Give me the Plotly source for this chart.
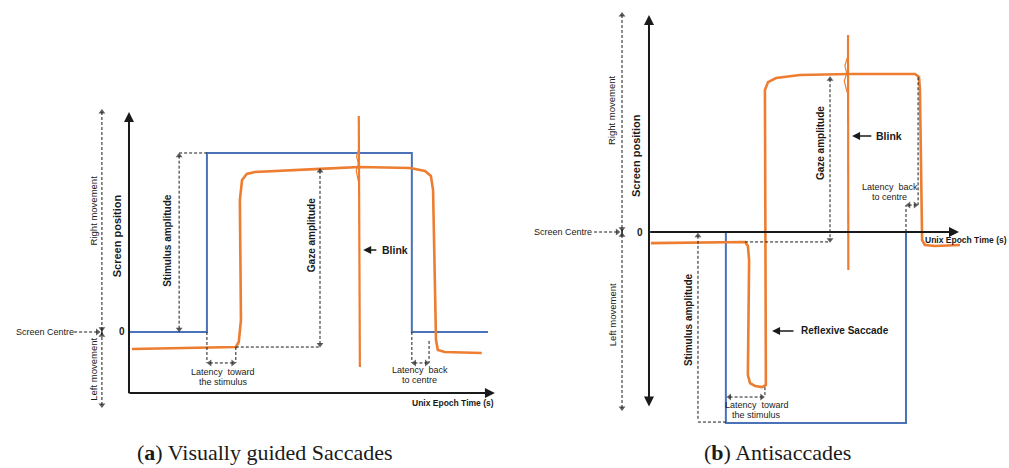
import plotly.graph_objects as go

# ---------------- DATA ----------------
# Panel (a) Visually guided saccades: time (arb. units) vs screen position (stimulus amplitude = 1)
A_STIM_T = [0, 2.13, 2.13, 7.73, 7.73, 9.81]
A_STIM_Y = [0, 0, 1, 1, 0, 0]
A_GAZE_T = [0.08, 2.92, 3.00, 3.06, 3.03, 3.09, 3.22, 3.44, 5.22, 6.31, 7.68, 8.09, 8.25, 8.31, 8.39, 8.44, 8.63, 9.64]
A_GAZE_Y = [-0.095, -0.084, -0.056, 0.067, 0.737, 0.849, 0.883, 0.894, 0.911, 0.922, 0.916, 0.899, 0.872, 0.793, -0.045, -0.101, -0.112, -0.117]
A_BLINK_T = [6.28, 6.29, 6.31]
A_BLINK_Y = [1.207, 0.90, -0.196]
A_JIT_T = [6.29, 6.22, 6.27, 6.21, 6.26, 6.30]
A_JIT_Y = [1.03, 0.98, 0.94, 0.90, 0.85, 0.82]

# Panel (b) Antisaccades
B_STIM_T = [0, 2.48, 2.48, 8.29, 8.29, 9.60]
B_STIM_Y = [0, 0, -1, -1, 0, 0]
B_GAZE_T = [0.06, 3.10, 3.19, 3.23, 3.19, 3.26, 3.42, 3.65, 3.77, 3.77, 3.74, 3.84, 4.10, 4.87, 6.48, 8.58, 8.71, 8.74, 8.81, 8.90, 9.23, 10.03]
B_GAZE_Y = [-0.058, -0.052, -0.073, -0.147, -0.749, -0.791, -0.806, -0.812, -0.801, -0.723, 0.743, 0.785, 0.806, 0.822, 0.827, 0.827, 0.812, 0.743, -0.042, -0.068, -0.073, -0.068]
B_BLINK_T = [6.42, 6.42, 6.43]
B_BLINK_Y = [1.031, 0.70, -0.199]
B_JIT_T = [6.42, 6.32, 6.38, 6.30, 6.36, 6.42]
B_JIT_Y = [0.925, 0.87, 0.83, 0.79, 0.75, 0.72]

BLUE = "#4A72B8"
ORANGE = "#ED7D31"
INK = "#1a1a1a"
DASH = "3px,2px"
SANS = "Liberation Sans"

fig = go.Figure()


def line(xs, ys, p, color, width, dash=None, heads=None):
    xa, ya = ("x", "y") if p == 1 else ("x2", "y2")
    mk = None
    mode = "lines"
    if heads:
        mode = "lines+markers"
        mk = dict(symbol=[h or "circle" for h in heads],
                  size=[6 if h else 0 for h in heads], color=INK, line=dict(width=0))
    fig.add_trace(go.Scatter(x=xs, y=ys, mode=mode, xaxis=xa, yaxis=ya,
                             line=dict(color=color, width=width, dash=dash),
                             marker=mk, hoverinfo="skip", showlegend=False))


def arrow(x, y, ax, ay, p, width=1.6, both=False):
    xa, ya = ("x", "y") if p == 1 else ("x2", "y2")
    fig.add_annotation(x=x, y=y, ax=ax, ay=ay, xref=xa, yref=ya, axref=xa, ayref=ya,
                       text="", showarrow=True, arrowhead=2, arrowsize=1.0,
                       arrowwidth=width, arrowcolor=INK,
                       arrowside="end+start" if both else "end", startarrowhead=2, startarrowsize=1.0)


def text(x, y, s, p, size=10, bold=False, angle=0, xanchor="center"):
    xa, ya = ("x", "y") if p == 1 else ("x2", "y2")
    fig.add_annotation(x=x, y=y, xref=xa, yref=ya, text=f"<b>{s}</b>" if bold else s,
                       showarrow=False, textangle=angle, xanchor=xanchor, yanchor="middle",
                       font=dict(family=SANS, size=size, color=INK))


# ---------------- PANEL A ----------------
A_XAX = -0.341
arrow(0, 1.229, 0, A_XAX - 0.01, 1, width=2)
arrow(10.0, A_XAX, -0.03, A_XAX, 1, width=2)
line(A_STIM_T, A_STIM_Y, 1, BLUE, 2)
line(A_GAZE_T, A_GAZE_Y, 1, ORANGE, 2.6)
line(A_BLINK_T, A_BLINK_Y, 1, ORANGE, 2.2)
line(A_JIT_T, A_JIT_Y, 1, ORANGE, 1.2)

a_on, a_off = A_STIM_T[1], A_STIM_T[3]
a_sacc = A_GAZE_T[1]
a_ret = 8.20
a_lat = -0.173
# stimulus amplitude
line([1.37, a_on], [1, 1], 1, INK, 1, DASH)
line([1.37, 1.37], [0.985, 0.015], 1, INK, 1, DASH, ["triangle-up", "triangle-down"])
text(1.07, 0.51, "Stimulus amplitude", 1, 10, True, -90)
# gaze amplitude
line([a_sacc, 5.22], [A_GAZE_Y[1]] * 2, 1, INK, 1, DASH)
line([5.22, 5.22], [0.90, -0.07], 1, INK, 1, DASH, ["triangle-up", "triangle-down"])
text(4.97, 0.54, "Gaze amplitude", 1, 10, True, -90)
# latency toward
line([a_on, a_on], [0, a_lat], 1, INK, 1, DASH)
line([a_sacc, a_sacc], [A_GAZE_Y[1], a_lat], 1, INK, 1, DASH)
line([a_on + 0.08, a_sacc - 0.08], [a_lat, a_lat], 1, INK, 1, DASH, ["triangle-left", "triangle-right"])
text(2.57, -0.225, "Latency  toward", 1, 9)
text(2.57, -0.282, "the stimulus", 1, 9)
# latency back
line([a_off, a_off], [0, a_lat], 1, INK, 1, DASH)
line([a_ret, a_ret], [-0.05, a_lat], 1, INK, 1, DASH)
line([a_off + 0.07, a_ret - 0.07], [a_lat, a_lat], 1, INK, 1, DASH, ["triangle-left", "triangle-right"])
text(7.95, -0.213, "Latency  back", 1, 9)
text(7.95, -0.27, "to centre", 1, 9)
# blink
arrow(6.40, 0.458, 6.80, 0.458, 1, 1.6)
text(6.86, 0.458, "Blink", 1, 10.5, True, xanchor="left")
# side labels
line([-0.74, -0.74], [1.229, -0.408], 1, INK, 1, DASH, ["triangle-up", "triangle-down"])
line([-1.50, -0.86], [0, 0], 1, INK, 1, DASH, [None, "triangle-right"])
line([-0.74, -0.74], [0.018, -0.018], 1, INK, 1, None, ["triangle-down", "triangle-up"])
text(-2.30, 0, "Screen Centre", 1, 9)
text(-0.98, 0.68, "Right movement", 1, 9.5, False, -90)
text(-0.98, -0.21, "Left movement", 1, 9.5, False, -90)
text(-0.33, 0.54, "Screen position", 1, 11, True, -90)
text(-0.19, 0, "0", 1, 10, True)
text(8.85, -0.397, "Unix Epoch Time (s)", 1, 8.5, True)

# ---------------- PANEL B ----------------
arrow(0, 1.136, 0, -0.921, 2, width=2, both=True)
arrow(10.0, 0, 0, 0, 2, width=2)
line(B_STIM_T, B_STIM_Y, 2, BLUE, 2)
line(B_GAZE_T, B_GAZE_Y, 2, ORANGE, 2.6)
line(B_BLINK_T, B_BLINK_Y, 2, ORANGE, 2.2)
line(B_JIT_T, B_JIT_Y, 2, ORANGE, 1.2)

b_on, b_off = B_STIM_T[1], B_STIM_T[3]
b_corr = 3.74
b_ret = 8.68
# stimulus amplitude
line([1.58, b_on], [-0.995, -0.995], 2, INK, 1, DASH)
line([1.58, 1.58], [-0.02, -0.985], 2, INK, 1, DASH, ["triangle-up", None])
text(1.26, -0.461, "Stimulus amplitude", 2, 10, True, -90)
# gaze amplitude
line([B_GAZE_T[1], 5.84], [B_GAZE_Y[1]] * 2, 2, INK, 1, DASH)
line([5.84, 5.84], [0.80, -0.04], 2, INK, 1, DASH, ["triangle-up", "triangle-down"])
text(5.52, 0.466, "Gaze amplitude", 2, 10, True, -90)
# latency toward
line([b_corr, b_corr], [-0.812, -0.864], 2, INK, 1, DASH)
line([b_on + 0.12, b_corr - 0.1], [-0.864, -0.864], 2, INK, 1, DASH, ["triangle-left", "triangle-right"])
text(3.48, -0.906, "Latency  toward", 2, 9)
text(3.48, -0.958, "the stimulus", 2, 9)
# latency back
line([b_off, b_off], [0, 0.141], 2, INK, 1, DASH)
line([b_ret, b_ret], [0.81, 0.141], 2, INK, 1, DASH)
line([b_off + 0.09, b_ret - 0.09], [0.141, 0.141], 2, INK, 1, DASH, ["triangle-left", "triangle-right"])
text(7.77, 0.236, "Latency  back", 2, 9)
text(7.77, 0.183, "to centre", 2, 9)
# blink & reflexive saccade
arrow(6.55, 0.503, 7.22, 0.503, 2, 1.6)
text(7.27, 0.503, "Blink", 2, 10.5, True, xanchor="left")
arrow(3.97, -0.518, 4.71, -0.518, 2, 1.6)
text(4.85, -0.518, "Reflexive Saccade", 2, 10, True, xanchor="left")
# side labels
line([-0.87, -0.87], [1.136, -0.921], 2, INK, 1, DASH, ["triangle-up", "triangle-down"])
line([-1.77, -1.02], [0, 0], 2, INK, 1, DASH, [None, "triangle-right"])
line([-0.87, -0.87], [0.017, -0.017], 2, INK, 1, None, ["triangle-down", "triangle-up"])
text(-2.77, 0, "Screen Centre", 2, 9)
text(-1.19, 0.639, "Right movement", 2, 9.5, False, -90)
text(-1.19, -0.435, "Left movement", 2, 9.5, False, -90)
text(-0.42, 0.403, "Screen position", 2, 11, True, -90)
text(-0.29, 0, "0", 2, 10, True)
text(10.23, -0.042, "Unix Epoch Time (s)", 2, 8.5, True)

# ---------------- CAPTIONS ----------------
for cx, cap in [(0.262, "(<b>a</b>) Visually guided Saccades"), (0.771, "(<b>b</b>) Antisaccades")]:
    fig.add_annotation(x=cx, y=0.034, xref="paper", yref="paper", text=cap, showarrow=False,
                       xanchor="center", yanchor="middle",
                       font=dict(family="Liberation Serif", size=22, color=INK))

ax_common = dict(visible=False, fixedrange=True, showgrid=False, zeroline=False)
fig.update_layout(
    width=1009, height=468, margin=dict(l=0, r=0, t=0, b=0),
    paper_bgcolor="white", plot_bgcolor="white", showlegend=False,
    xaxis=dict(domain=[0, 0.5], range=[-3.525, 10.262], **ax_common),
    yaxis=dict(domain=[0, 1], range=[-0.7598, 1.8547], anchor="x", **ax_common),
    xaxis2=dict(domain=[0.5, 1], range=[-4.661, 11.613], **ax_common),
    yaxis2=dict(domain=[0, 1], range=[-1.2356, 1.2147], anchor="x2", **ax_common),
)

fig.write_html("out.html", config={"displayModeBar": False},
               post_script="document.body.style.margin='0';document.body.style.overflow='hidden';")
